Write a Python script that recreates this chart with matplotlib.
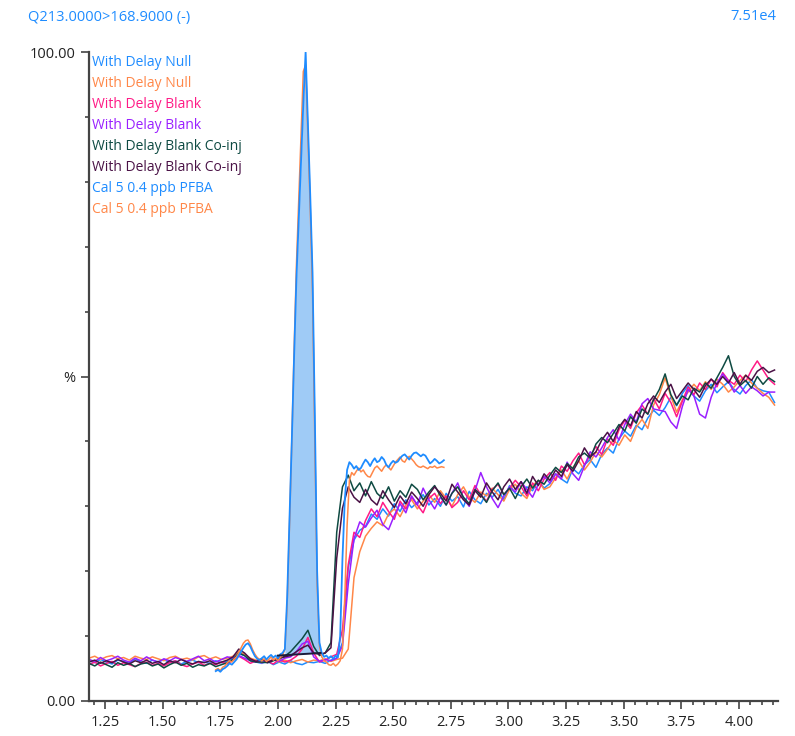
import numpy as np
import matplotlib
matplotlib.use("Agg")
import matplotlib.pyplot as plt
from matplotlib.ticker import FixedLocator, MultipleLocator

plt.rcParams['font.family'] = ['Open Sans', 'DejaVu Sans']

# retention time grid (min) for the full-length traces
t_full = np.round(np.arange(120) * 0.025 + 1.18, 3)
# retention time grid (min) for the calibration injections
t_cal = np.round(np.arange(100) * 0.01 + 1.73, 3)

# % of 7.51e4 counts, MRM 213 > 168.9
null_blue = [
    6.2, 5.9, 6.4, 6.0, 5.7, 6.3, 6.1, 5.8, 6.5, 6.0,
    5.8, 6.3, 6.0, 6.4, 5.9, 6.2, 5.7, 6.1, 6.3, 5.9,
    6.0, 5.8, 6.2, 5.9, 6.1, 6.6, 7.3, 7.0, 6.4, 6.0,
    5.8, 6.1, 5.6, 6.0, 5.7, 6.2, 5.8, 5.6, 6.0, 5.9,
    6.1, 5.8, 6.3, 6.6, 9.0, 20.5, 24.8, 26.3, 26.9, 28.8,
    28.0, 29.6, 28.5, 30.4, 29.2, 31.0, 29.8, 30.6, 31.8, 30.2,
    31.2, 30.0, 32.0, 30.8, 31.5, 29.9, 32.3, 31.0, 30.4, 32.0,
    31.4, 32.6, 31.0, 33.2, 32.0, 31.6, 33.0, 32.4, 34.0, 32.8,
    33.5, 35.0, 34.2, 33.6, 35.8, 35.0, 36.4, 37.2, 36.0, 38.0,
    39.0, 38.2, 40.4, 41.6, 40.8, 42.5, 41.8, 43.6, 44.8, 44.0,
    45.2, 46.8, 45.5, 47.4, 48.6, 47.0, 46.2, 47.8, 48.8, 47.5,
    48.4, 49.2, 48.0, 47.3, 48.6, 49.5, 48.2, 47.8, 47.6, 46.0,
]
null_orange = [
    6.6, 6.9, 6.4, 6.8, 7.0, 6.5, 6.7, 6.3, 6.9, 6.6,
    6.4, 6.8, 6.5, 6.2, 6.7, 6.9, 6.4, 6.6, 6.3, 6.8,
    7.0, 6.5, 6.8, 6.4, 6.6, 6.9, 7.6, 7.2, 6.6, 6.3,
    6.5, 6.1, 6.4, 6.0, 6.3, 5.9, 6.2, 6.4, 6.0, 6.3,
    6.2, 6.5, 6.1, 6.4, 6.6, 8.0, 19.0, 23.0, 25.4, 26.6,
    27.6, 27.0, 28.8, 29.6, 28.4, 30.2, 31.0, 29.6, 30.8, 31.8,
    30.6, 32.4, 31.2, 30.0, 31.8, 33.0, 31.4, 30.6, 32.2, 31.6,
    32.8, 31.8, 30.8, 32.6, 33.4, 32.0, 31.2, 33.2, 34.0, 32.6,
    33.0, 34.4, 35.6, 34.2, 36.0, 37.0, 35.6, 36.8, 38.4, 37.6,
    38.8, 40.2, 39.4, 41.0, 40.0, 42.2, 43.4, 42.0, 45.6, 47.2,
    49.8, 47.0, 44.5, 46.4, 47.6, 48.8, 47.8, 49.2, 48.0, 49.6,
    48.8, 47.6, 48.4, 49.4, 50.2, 49.0, 48.2, 47.4, 46.8, 45.6,
]
blank_pink = [
    5.6, 6.0, 5.4, 5.8, 6.1, 5.5, 5.9, 5.6, 5.3, 5.8,
    6.0, 5.5, 5.8, 5.4, 5.9, 6.2, 5.6, 5.3, 5.7, 6.0,
    5.5, 5.8, 5.6, 6.0, 5.7, 6.3, 6.9, 6.4, 5.8, 6.2,
    5.9, 6.1, 5.7, 6.4, 6.0, 6.3, 6.9, 8.0, 9.8, 7.4,
    6.0, 6.3, 6.8, 7.2, 11.0, 21.0, 26.0, 25.2, 27.8, 29.6,
    28.4, 30.6, 29.2, 28.0, 30.8, 29.6, 31.4, 30.2, 29.0, 31.2,
    32.0, 30.4, 31.6, 29.8, 30.6, 32.4, 31.0, 33.2, 31.8, 30.8,
    32.6, 33.4, 31.8, 32.8, 34.0, 33.0, 31.6, 33.6, 32.4, 34.2,
    35.2, 34.0, 36.2, 35.4, 37.0, 38.2, 36.4, 37.8, 39.2, 38.0,
    40.4, 39.4, 41.8, 43.2, 42.0, 44.4, 45.6, 44.2, 46.6, 45.0,
    47.4, 46.0, 43.8, 46.2, 48.4, 47.2, 49.0, 48.0, 49.6, 48.4,
    50.6, 49.4, 48.8, 50.2, 49.2, 51.0, 52.4, 51.0, 49.6, 48.8,
]
blank_purple = [
    6.4, 6.1, 6.7, 6.2, 6.5, 6.9, 6.3, 6.0, 6.6, 6.2,
    6.8, 6.3, 6.0, 6.5, 6.2, 6.7, 6.4, 6.1, 6.5, 6.9,
    6.2, 6.5, 6.0, 6.4, 6.8, 6.6, 7.0, 6.6, 6.2, 6.0,
    6.3, 5.9, 6.4, 6.1, 6.6, 6.8, 7.6, 8.8, 9.2, 6.8,
    6.1, 6.4, 6.2, 6.6, 8.5, 18.0, 25.0, 27.6, 26.8, 28.2,
    29.4, 27.2, 26.4, 28.6, 30.4, 29.0, 31.6, 30.2, 32.8, 31.0,
    29.6, 31.4, 30.2, 32.0, 33.6, 31.2, 30.0, 32.4, 35.2, 33.0,
    31.2, 29.8, 31.6, 33.0, 32.2, 33.8, 32.6, 31.4, 33.4, 34.6,
    33.6, 35.0, 34.2, 36.8, 35.0, 34.0, 36.2, 38.4, 37.6, 39.0,
    40.6, 41.8, 40.2, 42.6, 44.2, 43.0, 45.8, 46.6, 45.0, 44.8,
    44.6, 43.0, 42.0, 45.4, 48.0, 47.0, 44.2, 43.6, 46.8, 49.0,
    50.4, 49.2, 47.6, 48.6, 47.4, 48.4, 47.8, 47.0, 47.6, 47.6,
]
coinj_green = [
    5.8, 5.4, 6.0, 5.6, 5.2, 5.9, 5.5, 5.8, 5.3, 5.7,
    5.9, 5.4, 5.7, 5.1, 5.6, 6.0, 5.5, 5.8, 5.2, 5.6,
    5.4, 5.8, 5.3, 5.6, 5.9, 6.4, 7.4, 7.0, 6.2, 6.0,
    6.0, 5.9, 6.2, 6.5, 6.9, 7.6, 8.6, 9.6, 10.9, 8.4,
    7.0, 7.4, 9.0, 26.0, 33.0, 34.8, 32.4, 33.6, 31.6, 33.8,
    32.0, 31.2, 33.0, 30.8, 32.4, 31.4, 33.4, 32.6, 31.0, 32.2,
    33.2, 31.6, 30.2, 32.0, 33.0, 31.4, 30.4, 32.6, 31.8, 30.6,
    32.4, 33.6, 31.8, 32.8, 31.2, 33.0, 34.2, 32.8, 34.0, 33.4,
    34.8, 36.0, 35.2, 36.6, 35.8, 37.6, 38.2, 37.4, 39.6, 40.6,
    39.8, 41.2, 42.6, 41.6, 43.8, 42.8, 45.0, 44.2, 46.4, 48.0,
    50.4, 47.2, 45.6, 47.0, 46.4, 48.2, 47.6, 49.0, 48.2, 49.8,
    51.4, 53.2, 50.0, 48.6, 49.4, 48.2, 50.0, 48.8, 49.8, 49.2,
]
coinj_plum = [
    6.0, 6.3, 5.8, 6.2, 5.9, 6.4, 6.0, 5.7, 6.2, 5.9,
    6.3, 5.8, 6.1, 5.6, 6.2, 5.9, 6.4, 6.0, 5.7, 6.1,
    5.9, 6.2, 5.7, 6.0, 6.3, 6.8, 8.0, 7.4, 6.5, 6.1,
    6.4, 6.0, 6.3, 6.6, 6.8, 7.0, 7.6, 8.2, 8.6, 7.4,
    7.2, 7.4, 8.2, 22.0, 29.7, 33.0, 31.4, 30.6, 32.6, 31.0,
    30.2, 32.4, 31.0, 29.8, 31.6, 30.4, 32.2, 31.2, 30.0, 31.8,
    33.0, 32.0, 30.8, 33.4, 32.2, 31.0, 30.2, 32.4, 31.4, 33.6,
    32.2, 31.0, 33.0, 34.2, 32.6, 33.8, 32.0, 34.6, 33.2, 35.0,
    34.0, 35.6, 34.6, 36.4, 35.4, 37.0, 39.0, 37.6, 38.4, 40.2,
    41.4, 40.0, 42.2, 43.4, 42.4, 44.6, 43.6, 45.8, 47.0, 46.0,
    47.6, 48.8, 46.6, 47.8, 49.0, 48.0, 46.8, 48.6, 49.6, 48.8,
    50.0, 49.0, 50.6, 48.8, 50.2, 49.4, 50.8, 51.4, 50.6, 51.0,
]
cal_blue = [
    4.6, 4.8, 4.5, 4.9, 5.1, 5.4, 5.8, 5.6, 6.0, 6.4,
    7.0, 7.6, 8.2, 8.7, 8.9, 8.4, 7.6, 6.9, 6.5, 6.3,
    6.6, 6.9, 6.4, 6.8, 7.1, 6.7, 7.0, 6.6, 7.2, 7.4,
    8.0, 16.0, 28.0, 40.0, 53.0, 65.0, 74.0, 83.0, 92.0, 100.0,
    89.0, 78.0, 66.0, 44.0, 20.0, 9.0, 7.4, 6.8, 7.0, 6.6,
    6.9, 6.5, 7.0, 6.7, 10.0, 22.0, 31.0, 35.6, 36.8, 36.4,
    35.8, 36.2, 35.6, 35.9, 36.6, 37.2, 36.8, 36.2, 36.9, 37.4,
    36.8, 37.0, 37.6, 37.2, 36.4, 36.0, 36.6, 37.0, 36.7, 36.9,
    37.4, 37.8, 38.0, 37.6, 37.2, 37.8, 38.2, 38.3, 38.0, 37.7,
    38.0, 37.8, 37.2, 36.6, 36.9, 37.3, 37.0, 36.6, 36.8, 37.1,
]
cal_orange = [
    4.8, 5.0, 4.7, 5.2, 5.4, 5.9, 6.2, 6.0, 6.5, 6.8,
    7.4, 8.2, 8.9, 9.3, 9.4, 8.8, 7.9, 7.2, 6.7, 6.4,
    6.2, 6.5, 6.1, 6.4, 6.8, 6.3, 6.6, 6.2, 6.7, 7.0,
    8.0, 15.0, 27.0, 40.0, 54.0, 67.0, 77.0, 87.0, 97.0, 98.0,
    87.0, 76.0, 63.0, 40.0, 18.0, 8.5, 6.8, 6.2, 6.0, 5.6,
    5.5, 5.8, 5.4, 5.7, 6.2, 8.0, 16.0, 27.0, 34.0, 35.2,
    34.8, 35.4, 35.9, 35.3, 35.6, 35.0, 34.6, 34.5, 35.2, 35.9,
    36.2, 35.8, 35.4, 36.0, 36.4, 36.0, 35.6, 36.2, 36.8, 37.2,
    37.6, 37.0, 36.8, 37.4, 37.7, 37.3, 36.9, 36.4, 36.1, 36.0,
    36.2, 36.0, 35.8, 36.1, 36.0, 36.2, 35.9, 36.0, 36.1, 36.0,
]

# integrated peak window and its baseline
peak_start, peak_end = 2.00, 2.185
base_start, base_end = 7.0, 7.4

labels = ["With Delay Null", "With Delay Null", "With Delay Blank", "With Delay Blank",
          "With Delay Blank Co-inj", "With Delay Blank Co-inj",
          "Cal 5 0.4 ppb PFBA", "Cal 5 0.4 ppb PFBA"]
colors = ["#1E8CFF", "#FF8748", "#FF1A86", "#9A1FFF",
          "#0E4A42", "#4A1246", "#1E8CFF", "#FF8748"]

fig = plt.figure(figsize=(7.95, 7.36), dpi=100)
ax = fig.add_axes([89 / 795, 35 / 736, 689 / 795, 649 / 736])

# shaded area of the calibration peak above the integration baseline
tc = np.array(t_cal)
yb = np.array(cal_blue)
mask = (tc >= 2.03) & (tc <= 2.19)
base = np.interp(tc, [peak_start, peak_end], [base_start, base_end])
ax.fill_between(tc[mask], base[mask], yb[mask], color="#9FCBF6", lw=0, zorder=1)

full_traces = [null_blue, null_orange, blank_pink, blank_purple, coinj_green, coinj_plum]
for y, c in zip(full_traces, colors[:6]):
    ax.plot(t_full, y, color=c, lw=1.1, zorder=2)

ax.plot(t_cal, cal_orange, color=colors[7], lw=1.1, zorder=3)
ax.plot(t_cal, cal_blue, color=colors[6], lw=1.3, zorder=4)
ax.plot([peak_start, peak_end], [base_start, base_end], color="#1C1C3A", lw=1.4, zorder=5)

ax.set_xlim(1.18, 4.17)
ax.set_ylim(0, 100)

for s in ["top", "right"]:
    ax.spines[s].set_visible(False)
for s in ["left", "bottom"]:
    ax.spines[s].set_color("#444444")
    ax.spines[s].set_linewidth(1.6)

ax.xaxis.set_major_locator(FixedLocator(np.arange(1.25, 4.01, 0.25)))
ax.xaxis.set_minor_locator(MultipleLocator(0.05))
ax.set_xticklabels([f"{v:.2f}" for v in np.arange(1.25, 4.01, 0.25)])
ax.yaxis.set_major_locator(FixedLocator([0, 50, 100]))
ax.yaxis.set_minor_locator(FixedLocator([10, 20, 30, 40, 60, 70, 80, 90]))
ax.set_yticklabels(["0.00", "%", "100.00"])

ax.tick_params(axis="both", which="major", color="#444444", width=1.2, labelsize=10.5,
               labelcolor="#222222")
ax.tick_params(axis="x", which="major", length=6, pad=4)
ax.tick_params(axis="x", which="minor", length=3, width=1.2, color="#444444")
ax.tick_params(axis="y", which="major", length=6, pad=4)
ax.tick_params(axis="y", which="minor", length=3, width=1.2, color="#444444")

# stacked trace labels
for i, (lab, c) in enumerate(zip(labels, colors)):
    fig.text(92 / 795, 1 - (63 + 20.9 * i) / 736, lab, color=c, fontsize=10,
             ha="left", va="center")

fig.text(28 / 795, 1 - 17 / 736, "Q213.0000>168.9000 (-)", color="#1E8CFF",
         fontsize=10.5, ha="left", va="center")
fig.text(776 / 795, 1 - 17 / 736, "7.51e4", color="#1E8CFF",
         fontsize=10.5, ha="right", va="center")

fig.savefig("out.png", dpi=100)
